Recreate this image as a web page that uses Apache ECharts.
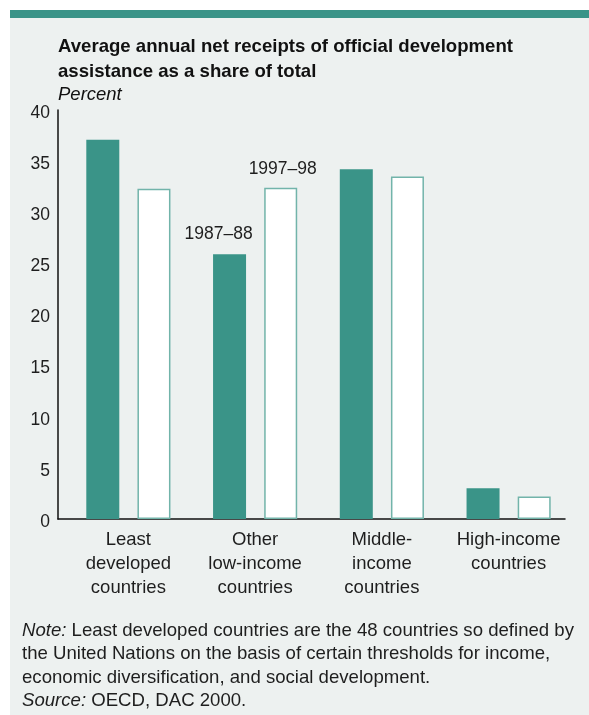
<!DOCTYPE html>
<html>
<head>
<meta charset="utf-8">
<script src="https://cdn.jsdelivr.net/npm/echarts@6/dist/echarts.min.js"></script>
<style>
  html, body { margin: 0; padding: 0; background: #ffffff; }
  #chart { width: 589px; height: 715px; }
</style>
</head>
<body>
<div id="chart"></div>
<script>
// Country groups along the x axis
const categories = [
  'Least\ndeveloped\ncountries',
  'Other\nlow-income\ncountries',
  'Middle-\nincome\ncountries',
  'High-income\ncountries'
];
// Share of total ODA receipts, percent
const period1Name = '1987–88';
const period1Values = [37.1, 25.9, 34.2, 3.0];
const period2Name = '1997–98';
const period2Values = [32.3, 32.4, 33.5, 2.2];
// Y axis range
const yMin = 0, yMax = 40, yStep = 5;

const teal = '#3a9488';
const ink = '#1e1e1e';
const font = 'Liberation Sans, Arial, Helvetica, sans-serif';

const chart = echarts.init(document.getElementById('chart'), null, { renderer: 'canvas' });

// Label the "Other low-income" pair with the period names
const p1Data = period1Values.map((v, i) => i === 1 ? {
  value: v,
  label: { show: true, position: 'top', formatter: period1Name, offset: [-11, -6] }
} : v);
const p2Data = period2Values.map((v, i) => i === 1 ? {
  value: v,
  label: { show: true, position: 'top', formatter: period2Name, offset: [2, -5] }
} : v);

const barLabel = { color: ink, fontFamily: font, fontSize: 17.5 };

chart.setOption({
  animation: false,
  backgroundColor: '#ffffff',
  graphic: [
    { type: 'rect', z: -10, shape: { x: 10, y: 17, width: 579, height: 698 }, style: { fill: '#edf1f0' } },
    { type: 'rect', z: -10, shape: { x: 10, y: 10, width: 579, height: 8 }, style: { fill: teal } }
  ],
  title: [
    {
      text: 'Average annual net receipts of official development\nassistance as a share of total',
      left: 58, top: 34, padding: 0,
      textStyle: { fontFamily: font, fontSize: 18.6, fontWeight: 'bold', color: '#111', lineHeight: 25 }
    },
    {
      text: 'Percent',
      left: 58, top: 83, padding: 0,
      textStyle: { fontFamily: font, fontSize: 18.5, fontStyle: 'italic', fontWeight: 'normal', color: '#111', lineHeight: 24 }
    },
    {
      text: '{i|Note:} Least developed countries are the 48 countries so defined by\nthe United Nations on the basis of certain thresholds for income,\neconomic diversification, and social development.\n{i|Source:} OECD, DAC 2000.',
      left: 22, top: 619, padding: 0,
      textStyle: {
        fontFamily: font, fontSize: 18.6, fontWeight: 'normal', color: ink, lineHeight: 23.5,
        rich: { i: { fontFamily: font, fontSize: 18.6, fontStyle: 'italic', color: ink, lineHeight: 23.5 } }
      }
    }
  ],
  grid: [
    { left: 65, right: 17, top: 110, bottom: 196 },
    { left: 58, right: 24, top: 110, bottom: 196 }
  ],
  xAxis: [
    {
      type: 'category', gridIndex: 0, data: categories,
      axisLine: { show: false }, axisTick: { show: false },
      axisLabel: { color: ink, fontFamily: font, fontSize: 18.5, lineHeight: 24, margin: 9, interval: 0 }
    },
    {
      type: 'value', gridIndex: 1, min: 0, max: 1,
      axisLine: { show: true, lineStyle: { color: '#111', width: 1.5 } },
      axisTick: { show: false }, axisLabel: { show: false }, splitLine: { show: false }
    }
  ],
  yAxis: [
    {
      type: 'value', gridIndex: 0, min: yMin, max: yMax, interval: yStep, offset: 7,
      axisLine: { show: true, lineStyle: { color: '#111', width: 1.5 } },
      axisTick: { show: false }, splitLine: { show: false },
      axisLabel: { color: ink, fontFamily: font, fontSize: 17.5, margin: 8, verticalAlign: 'top', lineHeight: 6 }
    },
    { type: 'value', gridIndex: 1, show: false, min: 0, max: 1 }
  ],
  series: [
    {
      name: period1Name, type: 'bar', xAxisIndex: 0, yAxisIndex: 0,
      data: p1Data, barWidth: 33, barGap: '55%',
      itemStyle: { color: teal },
      label: barLabel
    },
    {
      name: period2Name, type: 'bar', xAxisIndex: 0, yAxisIndex: 0,
      data: p2Data, barWidth: 33, barGap: '55%',
      itemStyle: { color: '#ffffff', borderColor: '#72b4aa', borderWidth: 1.5 },
      label: barLabel
    }
  ]
});
</script>
</body>
</html>
